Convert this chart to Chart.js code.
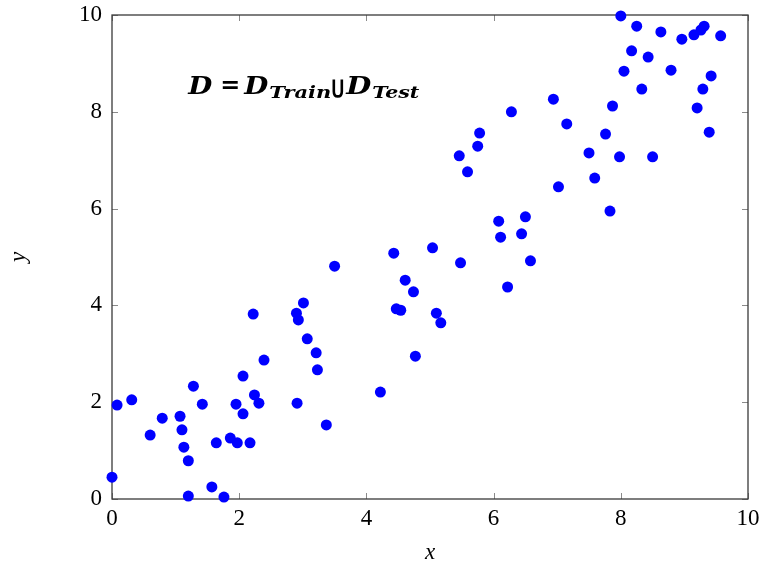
<!DOCTYPE html>
<html>
<head>
<meta charset="utf-8">
<script src="https://cdn.jsdelivr.net/npm/chart.js@4"></script>
<style>
  html, body { margin: 0; padding: 0; background: #fff; }
  #wrap { width: 760px; height: 566px; }
</style>
</head>
<body>
<div id="wrap"><canvas id="scatter" width="760" height="566"></canvas></div>
<script>
// values
const xs = [0.0, 0.08, 0.31, 0.6, 0.79, 1.07, 1.1, 1.13, 1.2, 1.2, 1.28, 1.42, 1.57, 1.64, 1.76, 1.86, 1.95, 1.97, 2.06, 2.06,
  2.17, 2.22, 2.24, 2.31, 2.39, 2.9, 2.93, 2.91, 3.01, 3.07, 3.21, 3.23, 3.37, 3.5, 4.22, 4.43, 4.47, 4.54, 4.61, 4.74,
  4.77, 5.04, 5.1, 5.17, 5.46, 5.48, 5.59, 5.75, 5.78, 6.08, 6.11, 6.22, 6.28, 6.44, 6.5, 6.58, 6.94, 7.02, 7.15, 7.5,
  7.59, 7.76, 7.83, 7.87, 7.98, 8.0, 8.05, 8.17, 8.25, 8.33, 8.43, 8.5, 8.63, 8.79, 8.96, 9.15, 9.2, 9.26, 9.29, 9.31,
  9.39, 9.42, 9.57];
const ys = [0.45, 1.94, 2.05, 1.32, 1.67, 1.71, 1.43, 1.07, 0.79, 0.06, 2.33, 1.96, 0.25, 1.16, 0.04, 1.26, 1.96, 1.16, 1.76, 2.54,
  1.16, 3.82, 2.15, 1.98, 2.87, 3.84, 3.7, 1.98, 4.05, 3.31, 3.02, 2.67, 1.53, 4.81, 2.21, 5.08, 3.93, 3.9, 4.52, 4.28,
  2.95, 5.19, 3.84, 3.64, 7.09, 4.88, 6.76, 7.29, 7.56, 5.74, 5.41, 4.38, 8.0, 5.48, 5.83, 4.92, 8.26, 6.45, 7.75, 7.15,
  6.63, 7.54, 5.95, 8.12, 7.07, 9.98, 8.84, 9.26, 9.77, 8.47, 9.13, 7.07, 9.65, 8.86, 9.5, 9.59, 8.08, 9.69, 8.47, 9.77,
  7.58, 8.74, 9.57];
const xTicks = [0, 2, 4, 6, 8, 10];
const yTicks = [0, 2, 4, 6, 8, 10];

const points = xs.map((x, i) => ({ x: x, y: ys[i] }));
const serif = "'Liberation Serif', 'DejaVu Serif', serif";
const mathFont = "'DejaVu Serif', serif";

// box around the plot with inward ticks on all four sides
const framePlugin = {
  id: "frame",
  beforeDatasetsDraw(chart) {
    const { ctx, chartArea: a, scales } = chart;
    ctx.save();
    ctx.strokeStyle = "#8a8a8a";
    ctx.lineWidth = 1;
    const len = 6;
    xTicks.forEach((v) => {
      const px = Math.round(scales.x.getPixelForValue(v)) + 0.5;
      ctx.beginPath();
      ctx.moveTo(px, a.bottom); ctx.lineTo(px, a.bottom - len);
      ctx.moveTo(px, a.top); ctx.lineTo(px, a.top + len);
      ctx.stroke();
    });
    yTicks.forEach((v) => {
      const py = Math.round(scales.y.getPixelForValue(v)) + 0.5;
      ctx.beginPath();
      ctx.moveTo(a.left, py); ctx.lineTo(a.left + len, py);
      ctx.moveTo(a.right, py); ctx.lineTo(a.right - len, py);
      ctx.stroke();
    });
    ctx.strokeStyle = "#3a3a3a";
    ctx.lineWidth = 1.3;
    ctx.strokeRect(a.left, a.top, a.right - a.left, a.bottom - a.top);
    ctx.restore();
  },
};

// the "D = D_Train U D_Test" label, each piece stretched to the width it has in the reference
const labelPlugin = {
  id: "label",
  afterDatasetsDraw(chart) {
    const { ctx, scales } = chart;
    const x0 = scales.x.getPixelForValue(1.2);
    const base = scales.y.getPixelForValue(8.36);
    const big = "bold italic 25px " + mathFont;
    const small = "bold italic 16px " + mathFont;
    ctx.save();
    ctx.fillStyle = "#000";
    ctx.textBaseline = "alphabetic";
    ctx.textAlign = "left";
    const put = (txt, font, dx, w, dy) => {
      ctx.font = font;
      const m = ctx.measureText(txt).width;
      ctx.save();
      ctx.translate(x0 + dx, base + dy);
      ctx.scale(w / m, 1);
      ctx.fillText(txt, 0, 0);
      ctx.restore();
    };
    put("D", big, 0, 24, 0);
    put("=", "bold 25px " + mathFont, 32, 20, -1);
    put("D", big, 56, 24, 0);
    put("Train", small, 81, 62, 3.5);
    put("D", big, 158, 25, 0);
    put("Test", small, 184, 47, 3.5);
    // big cup
    const cx = x0 + 144;
    ctx.lineWidth = 2.6;
    ctx.strokeStyle = "#000";
    ctx.beginPath();
    ctx.moveTo(cx + 1.5, base - 15);
    ctx.lineTo(cx + 1.5, base - 3);
    ctx.quadraticCurveTo(cx + 1.5, base + 2, cx + 5.5, base + 2);
    ctx.quadraticCurveTo(cx + 9.5, base + 2, cx + 9.5, base - 3);
    ctx.lineTo(cx + 9.5, base - 15);
    ctx.stroke();
    ctx.restore();
  },
};

// let the layout padding alone decide where the plot box sits
const noEdgePadding = (s) => {
  s.paddingTop = 0;
  s.paddingBottom = 0;
  s.paddingLeft = 0;
  s.paddingRight = 0;
};

new Chart(document.getElementById("scatter").getContext("2d"), {
  type: "scatter",
  data: {
    datasets: [
      {
        data: points,
        backgroundColor: "#0000ff",
        borderColor: "#0000ff",
        pointRadius: 5.5,
        pointBorderWidth: 0,
        clip: false,
      },
    ],
  },
  options: {
    responsive: false,
    animation: false,
    devicePixelRatio: 1,
    layout: { padding: { left: 0, right: 12, top: 15, bottom: 0 } },
    plugins: { legend: { display: false }, tooltip: { enabled: false } },
    scales: {
      x: {
        type: "linear",
        min: 0,
        max: 10,
        afterBuildTicks: (s) => { s.ticks = xTicks.map((v) => ({ value: v })); },
        afterFit: (s) => { s.height = 67; noEdgePadding(s); },
        grid: { display: false, drawTicks: false },
        border: { display: false },
        ticks: { color: "#000", padding: 6, font: { family: serif, size: 23 }, maxRotation: 0 },
        title: { display: true, text: "x", color: "#000", padding: { top: 0, bottom: 2 },
          font: { family: serif, size: 23, style: "italic", lineHeight: 1 } },
      },
      y: {
        type: "linear",
        min: 0,
        max: 10,
        afterBuildTicks: (s) => { s.ticks = yTicks.map((v) => ({ value: v })); },
        afterFit: (s) => { s.width = 112; noEdgePadding(s); },
        grid: { display: false, drawTicks: false },
        border: { display: false },
        ticks: { color: "#000", padding: 10, font: { family: serif, size: 23 } },
        title: { display: true, text: "y", color: "#000", padding: { top: 7, bottom: 0 },
          font: { family: serif, size: 23, style: "italic", lineHeight: 1 } },
      },
    },
  },
  plugins: [framePlugin, labelPlugin],
});
</script>
</body>
</html>
